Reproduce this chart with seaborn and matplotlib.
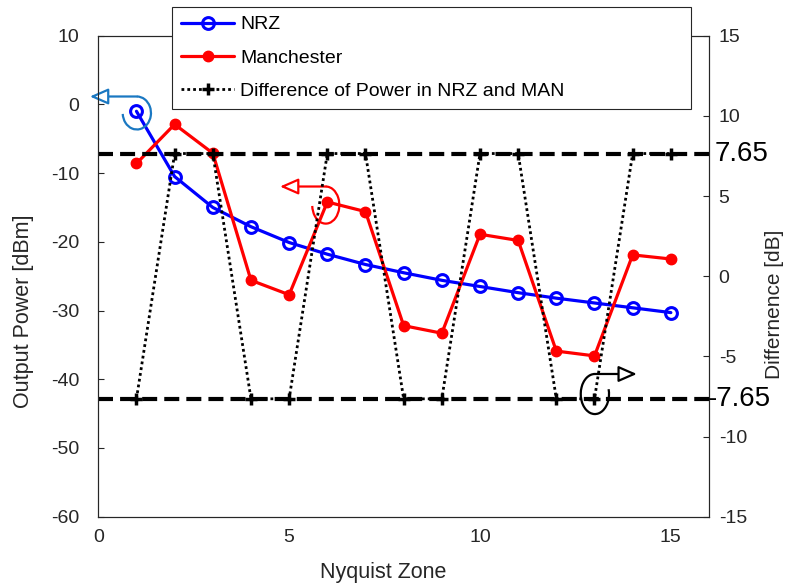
import matplotlib
matplotlib.use("Agg")
import matplotlib.pyplot as plt
import matplotlib.transforms as mtransforms
from matplotlib.patches import Arc
import numpy as np
import pandas as pd
import seaborn as sns

# ---------------- data ----------------
zones = list(range(1, 16))
nrz_dbm = [-1.0, -10.5, -15.0, -17.8, -20.1, -21.8, -23.3, -24.5, -25.6, -26.5,
           -27.4, -28.2, -28.9, -29.6, -30.3]
man_dbm = [-8.6, -2.9, -7.1, -25.6, -27.7, -14.2, -15.6, -32.2, -33.3, -18.9,
           -19.8, -35.9, -36.6, -21.9, -22.5]
diff_db = [-7.65, 7.65, 7.65, -7.65, -7.65, 7.65, 7.65, -7.65, -7.65, 7.65,
           7.65, -7.65, -7.65, 7.65, 7.65]
threshold_db = 7.65
x_ticks = [0, 5, 10, 15]
left_ticks = [-60, -50, -40, -30, -20, -10, 0, 10]
right_ticks = [-15, -10, -5, 0, 5, 10, 15]
series_labels = ["NRZ", "Manchester", "Difference of Power in NRZ and MAN"]

# ---------------- style ----------------
sns.set_theme(style="white")
plt.rcParams["font.family"] = ["Liberation Sans", "DejaVu Sans"]
plt.rcParams["axes.unicode_minus"] = False
ink = "#262626"

fig = plt.figure(figsize=(7.87, 5.88), dpi=100)
ax = fig.add_axes([0.1249, 0.1213, 0.7760, 0.818])
ax2 = ax.twinx()

df = pd.DataFrame({"zone": zones, "nrz": nrz_dbm, "man": man_dbm, "diff": diff_db})

sns.lineplot(data=df, x="zone", y="nrz", ax=ax, color="#0000ff", linewidth=2.3,
             marker="o", markersize=8.5, markerfacecolor="none",
             markeredgecolor="#0000ff", markeredgewidth=2.2, legend=False)
l_nrz = ax.lines[-1]
sns.lineplot(data=df, x="zone", y="man", ax=ax, color="#ff0000", linewidth=2.3,
             marker="o", markersize=7.5, markerfacecolor="#ff0000",
             markeredgecolor="#ff0000", markeredgewidth=1.0, legend=False)
l_man = ax.lines[-1]

sns.lineplot(data=df, x="zone", y="diff", ax=ax2, color="black", linewidth=2.0,
             linestyle=(0, (1, 1.1)), marker="+", markersize=9,
             markeredgecolor="black", markeredgewidth=2.5, legend=False)
l_diff = ax2.lines[-1]

for v in (threshold_db, -threshold_db):
    ax2.axhline(v, color="black", linewidth=3.0, dashes=(3.6, 1.7), zorder=1)

# ---------------- axes ----------------
ax.set_xlim(0, 16)
ax.set_ylim(-60, 10)
ax2.set_ylim(-15, 15)
ax.set_xticks(x_ticks)
ax.set_yticks(left_ticks)
ax2.set_yticks(right_ticks)

ax.tick_params(axis="x", direction="in", length=4.5, width=0.8, labelsize=14,
               colors=ink, pad=9)
ax.tick_params(axis="y", direction="in", length=4.5, width=0.8, labelsize=14,
               colors=ink, pad=13.5)
ax2.tick_params(axis="y", direction="in", length=4.5, width=0.8, labelsize=14,
                colors=ink, pad=7)
for a in (ax, ax2):
    for s in a.spines.values():
        s.set_color(ink)
        s.set_linewidth(0.8)
    a.grid(False)

ax.set_xlabel("Nyquist Zone", fontsize=15.5, color=ink)
ax.set_ylabel("Output Power [dBm]", fontsize=15.5, color=ink)
ax2.set_ylabel("Differnence [dB]", fontsize=15, color=ink)
ax.xaxis.set_label_coords(0.466, -0.094)
ax.yaxis.set_label_coords(-0.105, 0.428)
ax2.yaxis.set_label_coords(1.091, 0.441)

# threshold text on the right
blend = mtransforms.blended_transform_factory(ax2.transAxes, ax2.transData)
ax2.text(1.01, threshold_db, f"{threshold_db:g}", transform=blend, ha="left",
         va="center", fontsize=20, color="black", clip_on=False)
ax2.text(0.998, -threshold_db, f"{-threshold_db:g}", transform=blend, ha="left",
         va="center", fontsize=20, color="black", clip_on=False)

# ---------------- axis-indicator annotations ----------------
def indicator(a, cx, cy, w, h, theta1, theta2, x_tip, color):
    arc = Arc((cx, cy), w, h, theta1=theta1, theta2=theta2, color=color,
              linewidth=1.6, clip_on=False, zorder=6)
    a.add_patch(arc)
    y_top = cy + h / 2
    a.annotate("", xy=(x_tip, y_top), xytext=(cx, y_top),
               arrowprops=dict(arrowstyle="-|>,head_length=0.8,head_width=0.35",
                               mutation_scale=14, ec=color, fc="white",
                               lw=1.6, shrinkA=0, shrinkB=0),
               annotation_clip=False, zorder=6)

indicator(ax, zones[0] + 0.01, nrz_dbm[0] - 0.25, 0.74, 4.8, 200, 450, -0.22, "#1a78c2")
indicator(ax, zones[5] - 0.04, man_dbm[5] - 0.45, 0.71, 5.4, 200, 450, 4.76, "#ff0000")
indicator(ax2, zones[12] + 0.01, -threshold_db + 0.3, 0.74, 2.5, 90, 400, 14.11, "black")

# ---------------- legend ----------------
leg = fig.legend([l_nrz, l_man, l_diff], series_labels, loc="upper left",
                 bbox_to_anchor=(0.2186, 0.988, 0.660, 0.0), mode="expand",
                 fontsize=14, frameon=True, fancybox=False, framealpha=1.0,
                 edgecolor=ink, handlelength=2.75, handletextpad=0.3,
                 borderpad=0.45, labelspacing=0.8, borderaxespad=0.0)
leg.get_frame().set_linewidth(0.8)
for t in leg.get_texts():
    t.set_color("black")

fig.savefig("out.png", dpi=100)
